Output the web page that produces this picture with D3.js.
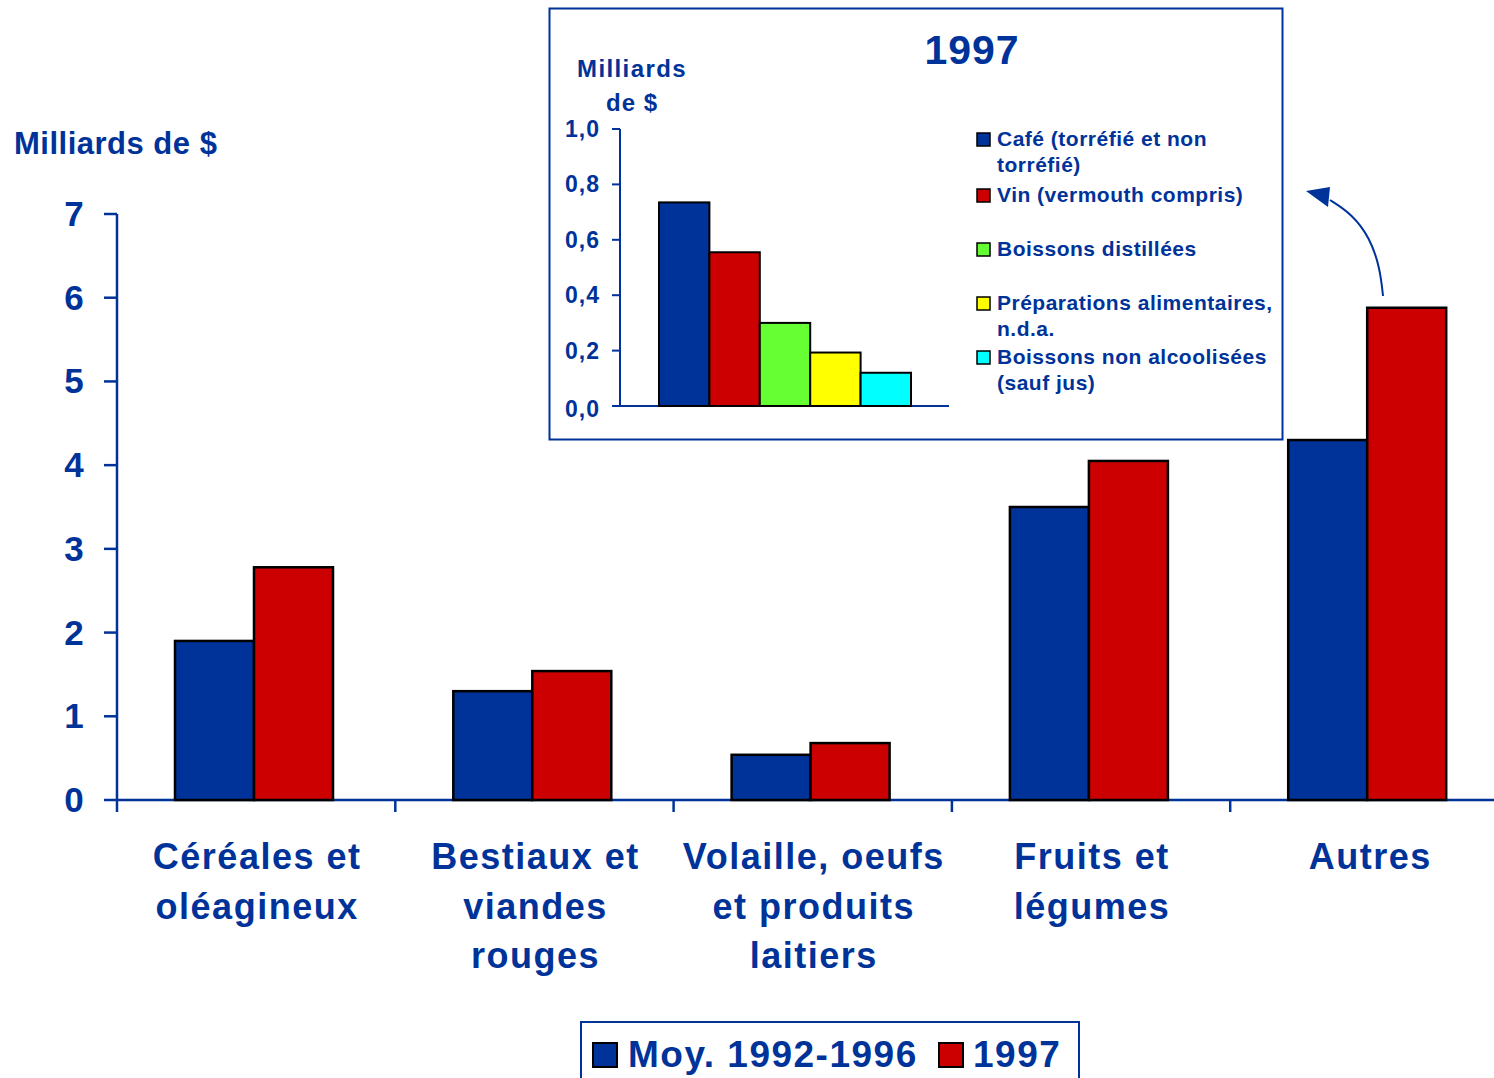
<!DOCTYPE html>
<html>
<head>
<meta charset="utf-8">
<script src="https://cdn.jsdelivr.net/npm/d3@7/dist/d3.min.js"></script>
<style>
  body{margin:0;background:#fff;}
  text{font-family:"Liberation Sans",Arial,sans-serif;font-weight:bold;fill:#003399;}
</style>
</head>
<body>
<div id="svg"></div>
<script>
// main chart data
var categories=[["Céréales et","oléagineux"],["Bestiaux et","viandes","rouges"],["Volaille, oeufs","et produits","laitiers"],["Fruits et","légumes"],["Autres"]];
var seriesNames=["Moy. 1992-1996","1997"];
var avg9296=[1.90,1.30,0.54,3.50,4.30];
var val1997=[2.78,1.54,0.68,4.05,5.88];
var yTicks=[0,1,2,3,4,5,6,7];

// inset data (1997)
var insetNames=[["Café (torréfié et non","torréfié)"],["Vin (vermouth compris)"],["Boissons distillées"],["Préparations alimentaires,","n.d.a."],["Boissons non alcoolisées","(sauf jus)"]];
var insetValues=[0.735,0.555,0.30,0.193,0.12];
var insetTicks=[0,0.2,0.4,0.6,0.8,1.0];

var blue="#003399",red="#CC0000";
var insetColors=["#003399","#CC0000","#66FF33","#FFFF00","#00FFFF"];

var svg=d3.select("#svg").append("svg")
  .attr("width",1494)
  .attr("height",1078);

// ---------- main chart ----------
var x=d3.scaleBand()
  .domain(d3.range(categories.length))
  .range([117,117+278.3*5]);

var y=d3.scaleLinear()
  .domain([0,7])
  .range([800,214]);

var groupPad=58,barW=79;

svg.append("line")
  .attr("x1",117).attr("x2",1494)
  .attr("y1",y(0)).attr("y2",y(0))
  .attr("stroke",blue).attr("stroke-width",2.5);
svg.append("line")
  .attr("x1",117).attr("x2",117)
  .attr("y1",y(0)).attr("y2",y(7))
  .attr("stroke",blue).attr("stroke-width",2.5);

// y ticks
yTicks.forEach(function(t){
  svg.append("line")
    .attr("x1",104).attr("x2",117)
    .attr("y1",y(t)).attr("y2",y(t))
    .attr("stroke",blue).attr("stroke-width",2.5);
  svg.append("text")
    .attr("x",74).attr("y",y(t)+12)
    .attr("text-anchor","middle")
    .style("font-size","35px")
    .text(t);
});

// x ticks between categories
for(var i=0;i<categories.length;i++){
  var tx=x(i);
  svg.append("line")
    .attr("x1",tx).attr("x2",tx)
    .attr("y1",y(0)).attr("y2",y(0)+12)
    .attr("stroke",blue).attr("stroke-width",2.5);
}

svg.selectAll("rect.avg")
  .data(avg9296)
  .enter().append("rect")
  .attr("x",function(d,i){return x(i)+groupPad;})
  .attr("y",function(d){return y(d);})
  .attr("width",barW)
  .attr("height",function(d){return y(0)-y(d);})
  .attr("fill",blue).attr("stroke","#000").attr("stroke-width",2.5);

svg.selectAll("rect.v97")
  .data(val1997)
  .enter().append("rect")
  .attr("x",function(d,i){return x(i)+groupPad+barW;})
  .attr("y",function(d){return y(d);})
  .attr("width",barW)
  .attr("height",function(d){return y(0)-y(d);})
  .attr("fill",red).attr("stroke","#000").attr("stroke-width",2.5);

// category labels
categories.forEach(function(lines,i){
  var t=svg.append("text")
    .attr("text-anchor","middle")
    .style("font-size","36px")
    .style("letter-spacing","1.5px");
  lines.forEach(function(l,j){
    t.append("tspan")
      .attr("x",x(i)+x.bandwidth()/2+1)
      .attr("y",869+j*49.5)
      .text(l);
  });
});

svg.append("text")
  .attr("x",14).attr("y",154)
  .style("font-size","31px")
  .style("letter-spacing","0.5px")
  .text("Milliards de $");

// main legend
svg.append("rect")
  .attr("x",581).attr("y",1022).attr("width",498).attr("height",70)
  .attr("fill","none").attr("stroke",blue).attr("stroke-width",2);
svg.append("rect").attr("x",593).attr("y",1043).attr("width",24).attr("height",24)
  .attr("fill",blue).attr("stroke","#000").attr("stroke-width",2);
svg.append("text").attr("x",628).attr("y",1067).style("font-size","37px")
  .style("letter-spacing","1.5px").text(seriesNames[0]);
svg.append("rect").attr("x",939).attr("y",1043).attr("width",24).attr("height",24)
  .attr("fill",red).attr("stroke","#000").attr("stroke-width",2);
svg.append("text").attr("x",973).attr("y",1067).style("font-size","37px")
  .style("letter-spacing","1.5px").text(seriesNames[1]);

// ---------- inset ----------
svg.append("rect")
  .attr("x",549.5).attr("y",8.5).attr("width",733).attr("height",431)
  .attr("fill","#fff").attr("stroke",blue).attr("stroke-width",2);

var ix=d3.scaleBand()
  .domain(d3.range(insetValues.length))
  .range([659,911]);
var iy=d3.scaleLinear()
  .domain([0,1])
  .range([406,129]);

svg.append("line")
  .attr("x1",612).attr("x2",949)
  .attr("y1",iy(0)).attr("y2",iy(0))
  .attr("stroke",blue).attr("stroke-width",2);
svg.append("line")
  .attr("x1",620).attr("x2",620)
  .attr("y1",iy(0)).attr("y2",iy(1))
  .attr("stroke",blue).attr("stroke-width",2);

insetTicks.forEach(function(t){
  svg.append("line")
    .attr("x1",612).attr("x2",620)
    .attr("y1",iy(t)).attr("y2",iy(t))
    .attr("stroke",blue).attr("stroke-width",2);
  svg.append("text")
    .attr("x",600).attr("y",iy(t)+8+(t==0?3:0))
    .attr("text-anchor","end")
    .style("font-size","23px")
    .style("letter-spacing","1px")
    .text(d3.format(".1f")(t).replace(".",","));
});

svg.selectAll("rect.inset")
  .data(insetValues)
  .enter().append("rect")
  .attr("x",function(d,i){return ix(i);})
  .attr("y",function(d){return iy(d);})
  .attr("width",ix.bandwidth())
  .attr("height",function(d){return iy(0)-iy(d);})
  .attr("fill",function(d,i){return insetColors[i];})
  .attr("stroke","#000").attr("stroke-width",2);

svg.append("text").attr("x",972).attr("y",64).attr("text-anchor","middle")
  .style("font-size","41px").style("letter-spacing","1px").text("1997");
svg.append("text").attr("x",632).attr("y",77).attr("text-anchor","middle")
  .style("font-size","24px").style("letter-spacing","1.4px").text("Milliards");
svg.append("text").attr("x",632).attr("y",111).attr("text-anchor","middle")
  .style("font-size","24px").style("letter-spacing","1px").text("de $");

// inset legend
var legY=[139,195,249,303,357];
insetNames.forEach(function(lines,i){
  svg.append("rect")
    .attr("x",977).attr("y",legY[i]-6).attr("width",13).attr("height",13)
    .attr("fill",insetColors[i]).attr("stroke","#000").attr("stroke-width",1.5);
  var t=svg.append("text").style("font-size","21px").style("letter-spacing","0.5px");
  lines.forEach(function(l,j){
    t.append("tspan").attr("x",997).attr("y",legY[i]+7+j*26).text(l);
  });
});

// arrow from Autres bar to inset
var arrowPts=[[1383,296],[1380,268],[1370,238],[1352,214],[1330,200]];
svg.append("path")
  .attr("d",d3.line().curve(d3.curveBasis)(arrowPts))
  .attr("fill","none").attr("stroke",blue).attr("stroke-width",2);
svg.append("path")
  .attr("d","M1306,191 L1328,207 L1330,187 Z")
  .attr("fill",blue);
</script>
</body>
</html>
